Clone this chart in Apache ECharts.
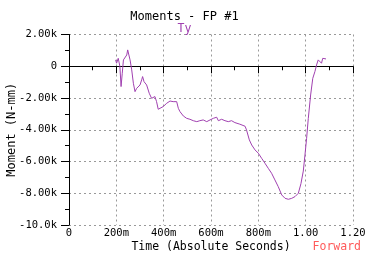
<!DOCTYPE html>
<html>
<head>
<meta charset="utf-8">
<script src="https://cdn.jsdelivr.net/npm/echarts@6/dist/echarts.min.js"></script>
<style>
  html, body { margin: 0; padding: 0; background: #fff; }
  #chart { width: 369px; height: 254px; }
</style>
</head>
<body>
<div id="chart"></div>
<script>
// 时间 (s)
let times = [0.197, 0.201, 0.208, 0.215, 0.220, 0.225, 0.230, 0.237, 0.244, 0.248, 0.253, 0.258, 0.265, 0.272,
  0.279, 0.286, 0.293, 0.300, 0.307, 0.311, 0.317, 0.328, 0.339, 0.349, 0.363, 0.370, 0.377, 0.384,
  0.398, 0.413, 0.427, 0.440, 0.455, 0.462, 0.469, 0.483, 0.497, 0.511, 0.525, 0.540, 0.553, 0.567,
  0.582, 0.596, 0.610, 0.624, 0.631, 0.645, 0.659, 0.673, 0.687, 0.701, 0.722, 0.744, 0.750, 0.762,
  0.772, 0.786, 0.800, 0.814, 0.828, 0.842, 0.856, 0.870, 0.884, 0.899, 0.913, 0.927, 0.941, 0.955,
  0.969, 0.980, 0.990, 0.997, 1.004, 1.011, 1.021, 1.030, 1.039, 1.046, 1.053, 1.060, 1.067, 1.072,
  1.079, 1.086];
// 力矩 Ty (N-mm)
let moments = [400, 190, 500, 0, -1280, -440, 400, 300, 710, 1030, 710, 400, -230, -1070,
  -1600, -1390, -1490, -1180, -860, -650, -970, -1180, -1700, -2020, -1910, -2230, -2710, -2650,
  -2540, -2330, -2190, -2230, -2230, -2650, -2860, -3130, -3280, -3340, -3430, -3490, -3430, -3380,
  -3490, -3380, -3280, -3210, -3430, -3340, -3430, -3490, -3430, -3550, -3650, -3780, -4010, -4640,
  -4960, -5270, -5480, -5800, -6110, -6430, -6740, -7160, -7580, -8110, -8320, -8380, -8320, -8210,
  -8000, -7400, -6600, -5590, -4540, -3300, -1810, -760, -340, 80, 400, 500, 190, 500,
  400, 460];
let xTicks = [0, 0.2, 0.4, 0.6, 0.8, 1.0, 1.2];
let xTickLabels = ['0', '200m', '400m', '600m', '800m', '1.00', '1.20'];

let font = '"DejaVu Sans Mono", monospace';
let myChart = echarts.init(document.getElementById('chart'));
let option = {
  animation: false,
  title: {
    text: 'Moments - FP #1',
    subtext: 'Ty',
    left: 'center',
    top: 6,
    itemGap: 0,
    textStyle: { fontFamily: font, fontSize: 12, fontWeight: 'normal', color: '#000' },
    subtextStyle: { fontFamily: font, fontSize: 11.5, color: '#a040b0' },
  },
  grid: { left: 69, right: 16, top: 34.5, bottom: 29, containLabel: false, outerBoundsMode: 'none' },
  xAxis: {
    type: 'value',
    min: 0,
    max: 1.2,
    interval: 0.2,
    name: 'Time (Absolute Seconds)',
    nameLocation: 'middle',
    nameGap: 16,
    nameMoveOverlap: false,
    nameTextStyle: { fontFamily: font, fontSize: 11.5, color: '#000' },
    axisLine: { lineStyle: { color: '#000', width: 1 } },
    axisTick: { show: true, length: 7, lineStyle: { color: '#000' } },
    minorTick: { show: true, splitNumber: 2, length: 4, lineStyle: { color: '#000' } },
    axisLabel: {
      fontFamily: font, fontSize: 10.5, color: '#000', margin: 3,
      formatter: (v) => {
        let i = xTicks.findIndex(t => Math.abs(t - v) < 1e-6);
        return i >= 0 ? xTickLabels[i] : '';
      },
    },
    splitLine: { show: true, lineStyle: { color: '#999', type: [2, 3], width: 1 } },
  },
  yAxis: {
    type: 'value',
    min: -10000,
    max: 2000,
    interval: 2000,
    name: 'Moment (N-mm)',
    nameLocation: 'middle',
    nameGap: 51,
    nameMoveOverlap: false,
    nameTextStyle: { fontFamily: font, fontSize: 12, color: '#000' },
    axisLine: { show: true, lineStyle: { color: '#000', width: 1 } },
    axisTick: { show: true, length: 8, lineStyle: { color: '#000' } },
    minorTick: { show: true, splitNumber: 2, length: 4, lineStyle: { color: '#000' } },
    axisLabel: {
      fontFamily: font, fontSize: 10.5, color: '#000', margin: 12,
      formatter: (v) => {
        if (v === 0) return '0';
        let a = Math.abs(v) / 1000;
        return (v < 0 ? '-' : '') + (a >= 10 ? a.toFixed(1) : a.toFixed(2)) + 'k';
      },
    },
    splitLine: { show: true, lineStyle: { color: '#999', type: [2, 3], width: 1 } },
  },
  graphic: [
    {
      type: 'text',
      right: 8,
      bottom: 1,
      style: { text: 'Forward', fontFamily: font, fontSize: 11.5, fill: '#ff5a5a' },
    },
  ],
  series: [
    {
      name: 'Ty',
      type: 'line',
      data: times.map((t, i) => [t, moments[i]]),
      showSymbol: false,
      smooth: false,
      lineStyle: { color: '#a040b0', width: 1 },
    },
  ],
};
myChart.setOption(option);
</script>
</body>
</html>
